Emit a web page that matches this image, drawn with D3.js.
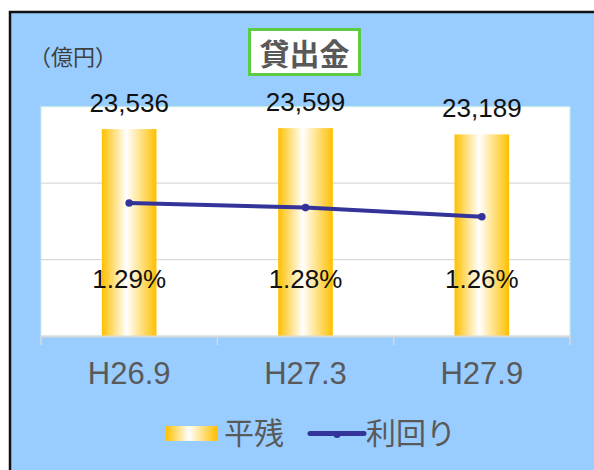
<!DOCTYPE html>
<html><head><meta charset="utf-8">
<script src="https://cdnjs.cloudflare.com/ajax/libs/d3/7.8.5/d3.min.js"></script>
<style>body{margin:0;background:#fff}svg{display:block}</style>
</head><body>
<svg id="c" width="594" height="470"></svg>
<script>
const categories = ["H26.9", "H27.3", "H27.9"];
const balances = [23536, 23599, 23189];
const yields = [1.29, 1.28, 1.26];
const balanceTicks = [10000, 15000, 20000, 25000];
const title = "貸出金";
const unitLabel = "（億円）";
const seriesNames = ["平残", "利回り"];

const svg = d3.select("#c");
const latin = "'Liberation Sans', Arial, sans-serif";
const cjk = "'Noto Sans CJK JP', 'Noto Sans', sans-serif";

// outer frame
svg.append("rect").attr("x", 10).attr("y", 12).attr("width", 600).attr("height", 470)
  .attr("fill", "#99ccff").attr("stroke", "#111").attr("stroke-width", 2.5);

const plot = {left: 41, right: 570, top: 106.7, bottom: 336};
const x = d3.scaleBand().domain(categories).range([plot.left, plot.right]).paddingInner(0).paddingOuter(0);
const y = d3.scaleLinear().domain([10000, 25000]).range([plot.bottom, plot.top]);
const y2 = d3.scaleLinear().domain([1.0, 1.5]).range([plot.bottom, plot.top]);

svg.append("rect").attr("x", plot.left).attr("y", plot.top)
  .attr("width", plot.right - plot.left).attr("height", plot.bottom - plot.top)
  .attr("fill", "#fff").attr("stroke", "#c4efe6").attr("stroke-width", 1);

// gridlines
svg.append("g").selectAll("line").data(balanceTicks.slice(1, -1)).join("line")
  .attr("x1", plot.left).attr("x2", plot.right)
  .attr("y1", d => y(d)).attr("y2", d => y(d))
  .attr("stroke", "#d9d9d9").attr("stroke-width", 1.2);

// gradient
const defs = svg.append("defs");
const g = defs.append("linearGradient").attr("id", "gold").attr("x1", "0").attr("x2", "1").attr("y1", "0").attr("y2", "0");
g.append("stop").attr("offset", "0%").attr("stop-color", "#ffc000");
g.append("stop").attr("offset", "45%").attr("stop-color", "#ffffff");
g.append("stop").attr("offset", "100%").attr("stop-color", "#ffc000");

const bw = x.bandwidth() * 0.31;
svg.append("g").selectAll("rect").data(balances).join("rect")
  .attr("x", (d, i) => x(categories[i]) + x.bandwidth() / 2 - bw / 2)
  .attr("width", bw)
  .attr("y", d => y(d))
  .attr("height", d => plot.bottom - y(d))
  .attr("fill", "url(#gold)");

// x axis
const xAxis = d3.axisBottom(x).tickSize(0).tickFormat("");
const ax = svg.append("g").attr("transform", `translate(0,${plot.bottom})`).call(xAxis);
ax.select(".domain").attr("stroke", "#d9d9d9").attr("stroke-width", 2);
const bounds = categories.map(c => x(c)).concat([plot.right]);
svg.append("g").selectAll("line").data(bounds).join("line")
  .attr("x1", d => d).attr("x2", d => d).attr("y1", plot.bottom).attr("y2", plot.bottom + 9)
  .attr("stroke", "#d9d9d9").attr("stroke-width", 1.5);
svg.append("g").selectAll("text").data(categories).join("text")
  .attr("x", d => x(d) + x.bandwidth() / 2).attr("y", 383.5)
  .attr("text-anchor", "middle").attr("font-family", latin).attr("font-size", 31)
  .attr("fill", "#595959").text(d => d);

// line
const cx = (d, i) => x(categories[i]) + x.bandwidth() / 2;
svg.append("path").datum(yields)
  .attr("d", d3.line().x(cx).y(d => y2(d)))
  .attr("fill", "none").attr("stroke", "#333399").attr("stroke-width", 4);
svg.append("g").selectAll("circle").data(yields).join("circle")
  .attr("cx", cx).attr("cy", d => y2(d)).attr("r", 3.8).attr("fill", "#333399");

// bar labels
svg.append("g").selectAll("text").data(balances).join("text")
  .attr("x", cx).attr("y", d => y(d) - 17)
  .attr("text-anchor", "middle").attr("font-family", latin).attr("font-size", 26)
  .attr("fill", "#111").text(d => d3.format(",")(d));

// yield labels
svg.append("g").selectAll("text").data(yields).join("text")
  .attr("x", cx).attr("y", y(15000) + 28)
  .attr("text-anchor", "middle").attr("font-family", latin).attr("font-size", 26)
  .attr("fill", "#111").text(d => d.toFixed(2) + "%");

// title box
svg.append("rect").attr("x", 249.5).attr("y", 29.5).attr("width", 110).attr("height", 45)
  .attr("fill", "#fff").attr("stroke", "#5ccc44").attr("stroke-width", 3);
svg.append("text").attr("x", 304.5).attr("y", 65).attr("text-anchor", "middle")
  .attr("font-family", cjk).attr("font-weight", "bold").attr("font-size", 30)
  .attr("fill", "#595959").text(title);

// unit
svg.append("text").attr("x", 29).attr("y", 64.5).attr("font-family", cjk).attr("font-size", 22)
  .attr("fill", "#404040").text(unitLabel);

// legend
svg.append("rect").attr("x", 166).attr("y", 426).attr("width", 51).attr("height", 15).attr("fill", "url(#gold)");
svg.append("text").attr("x", 224).attr("y", 444).attr("font-family", cjk).attr("font-size", 30)
  .attr("fill", "#595959").text(seriesNames[0]);
svg.append("line").attr("x1", 310).attr("x2", 364).attr("y1", 433.5).attr("y2", 433.5)
  .attr("stroke", "#333399").attr("stroke-width", 5).attr("stroke-linecap", "round");
svg.append("circle").attr("cx", 337).attr("cy", 434.5).attr("r", 3.5).attr("fill", "#333399");
svg.append("text").attr("x", 366).attr("y", 444).attr("font-family", cjk).attr("font-size", 30)
  .attr("fill", "#595959").text(seriesNames[1]);
</script>
</body></html>
